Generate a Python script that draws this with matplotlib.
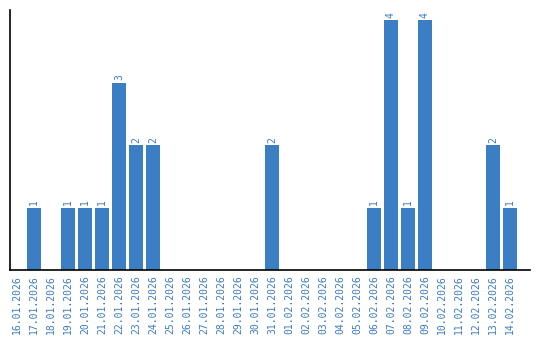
import matplotlib
matplotlib.use("Agg")
import matplotlib.pyplot as plt

dates = ["16.01.2026", "17.01.2026", "18.01.2026", "19.01.2026", "20.01.2026",
         "21.01.2026", "22.01.2026", "23.01.2026", "24.01.2026", "25.01.2026",
         "26.01.2026", "27.01.2026", "28.01.2026", "29.01.2026", "30.01.2026",
         "31.01.2026", "01.02.2026", "02.02.2026", "03.02.2026", "04.02.2026",
         "05.02.2026", "06.02.2026", "07.02.2026", "08.02.2026", "09.02.2026",
         "10.02.2026", "11.02.2026", "12.02.2026", "13.02.2026", "14.02.2026"]
values = [0, 1, 0, 1, 1, 1, 3, 2, 2, 0, 0, 0, 0, 0, 0, 2, 0, 0, 0, 0, 0,
          1, 4, 1, 4, 0, 0, 0, 2, 1]

bar_color = "#3b7ec3"
text_color = "#3a7bbf"

fig = plt.figure(figsize=(5.4, 3.4), dpi=100)
ax = fig.add_axes([10/540, 70/340, 520/540, 260/340])
x = list(range(len(dates)))
ax.bar(x, values, width=0.82, color=bar_color)
for xi, v in zip(x, values):
    if v > 0:
        ax.text(xi, v + 0.04, str(v), rotation=90, ha="center", va="bottom",
                color=text_color, fontsize=7, family="DejaVu Sans Mono")
ax.set_xlim(-0.41, 30.18)
ax.set_ylim(0, 4.16)
ax.set_xticks(x)
ax.set_xticklabels(dates, rotation=90, color=text_color, fontsize=7,
                   family="DejaVu Sans Mono")
ax.tick_params(axis="x", length=0, pad=4)
ax.set_yticks([])
ax.spines["top"].set_visible(False)
ax.spines["right"].set_visible(False)
ax.spines["left"].set_linewidth(1.2)
ax.spines["bottom"].set_linewidth(1.2)
fig.savefig("out.png", dpi=100)
